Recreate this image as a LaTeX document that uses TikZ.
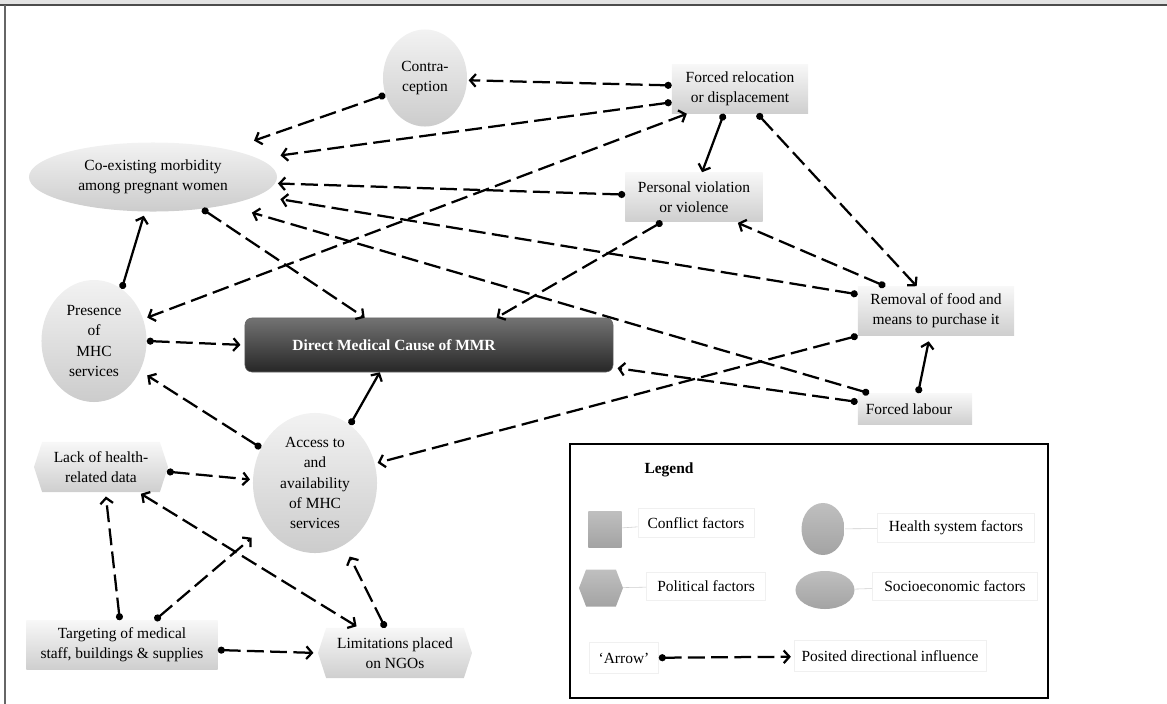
\documentclass[tikz,border=0pt]{standalone}
\usepackage{fontspec}
\setmainfont{Liberation Serif}
\usetikzlibrary{arrows.meta,shapes.geometric,shapes.symbols}

\tikzset{
  every node/.style={font=\fontsize{11}{14.5}\selectfont},
  conflict/.style={rectangle, top color=gray!6, bottom color=gray!38, inner sep=2pt, align=center},
  health/.style={ellipse, top color=gray!10, bottom color=gray!40, inner sep=0pt, align=center},
  political/.style={signal, signal to=west and east, signal pointer angle=144, top color=gray!6, bottom color=gray!38, inner sep=2pt, align=center},
  keybox/.style={rectangle, fill=white, draw=gray!12, inner sep=3pt},
  keyshape/.style={top color=gray!50, bottom color=gray!72},
  infl/.style={line width=1.6pt, dash pattern=on 12pt off 4.5pt, {Circle[length=5pt]}-{Straight Barb[length=4pt,width=9pt]}},
  twoway/.style={line width=1.6pt, dash pattern=on 12pt off 4.5pt, {Straight Barb[length=4pt,width=9pt]}-{Straight Barb[length=4pt,width=9pt]}},
}

\begin{document}
\begin{tikzpicture}[x=0.025cm,y=-0.025cm]
		\useasboundingbox (0,0) rectangle (1167,704);
		\fill[gray!22] (0,0) rectangle (1167,4);
		\draw[black!70,line width=1.5pt] (0,5) -- (1167,5);
		\draw[black!60,line width=0.8pt] (5,5) -- (5,704);
		%
		\node[health, minimum width=2.1cm, minimum height=2.425cm] (contra) at (425,78) {Contra-\\ception};
		\node[conflict, minimum width=3.4cm, minimum height=1.225cm] (reloc) at (740,89) {Forced relocation\\or displacement};
		\node[health, minimum width=6.2cm, minimum height=1.725cm] (coex) at (153,177) {Co-existing morbidity\\among pregnant women};
		\node[conflict, minimum width=3.425cm, minimum height=1.225cm] (personal) at (694,197) {Personal violation\\or violence};
		\node[health, minimum width=2.625cm, minimum height=3.05cm] (presence) at (94,341) {Presence\\of\\MHC\\services};
		\node[rectangle, rounded corners=5pt, draw=black!60, top color=black!55, bottom color=black!85, text=white,
			font=\fontsize{11}{14.5}\selectfont\bfseries, minimum width=9.2cm, minimum height=1.35cm] (direct) at (429,345) {Direct Medical Cause of MMR\hspace*{1.75cm}};
		\node[conflict, minimum width=3.9cm, minimum height=1.225cm] (removal) at (936,311) {Removal of food and\\means to purchase it};
		\node[conflict, minimum width=2.85cm, minimum height=0.775cm] (labour) at (915,409) {Forced labour\hspace*{0.3cm}};
		\node[health, minimum width=3.1cm, minimum height=3.5cm] (access) at (315,483) {Access to\\and\\availability\\of MHC\\services};
		\node[political, minimum width=3.35cm, minimum height=1.25cm] (lack) at (101,467) {Lack of health-\\related data};
		\node[conflict, minimum width=4.775cm, minimum height=1.225cm] (target) at (122,645) {Targeting of medical\\staff, buildings \& supplies};
		\node[political, minimum width=3.85cm, minimum height=1.25cm] (limits) at (395,653) {Limitations placed\\on NGOs};
		%
		\path[infl]
		(reloc.177) edge[shorten >=1pt] (contra.357)
		(contra.203) edge[shorten >=19pt] (coex.20)
		(reloc.191) edge[shorten >=16pt] (coex.10)
		(reloc.-55) edge (removal.128)
		(personal.178) edge[shorten >=2pt] (coex.-3)
		(removal.168) edge[shorten >=16pt] (coex.-10)
		(removal.154) edge[shorten >=2pt] (personal.-31)
		(labour.161) edge[shorten >=19pt] (coex.-21)
		(coex.-33) edge (direct.157)
		(personal.218) edge (direct.22)
		(presence.east) edge[shorten >=3pt] (direct.west)
		(access.147) edge[shorten >=6pt] (presence.-33)
		(removal.south west) edge[shorten >=2pt] (access.18)
		(labour.173) edge[shorten >=3pt] (direct.-7)
		(lack.-4) edge[shorten >=2pt] (access.177)
		(target.95) edge[shorten >=3pt] (lack.-80)
		(target.37) edge[shorten >=13pt] (access.221)
		(limits.111) edge[shorten >=9pt] (access.-65)
		(target.-3) edge[shorten >=3pt] (limits.west);
		\path[infl,solid]
		(reloc.237) edge (personal.72)
		(presence.62) edge[shorten >=3pt] (coex.257)
		(access.59) edge (direct.209)
		(labour.79) edge[shorten >=4pt] (removal.256);
		\path[twoway]
		(reloc.205) edge[shorten >=3pt] (presence.24)
		(lack.-34) edge[shorten >=2pt,shorten <=2pt] (limits.145);
		%
		\draw[line width=1.5pt] (570,444) rectangle (1048,698);
		\node[font=\fontsize{11}{14.5}\selectfont\bfseries] (legtitle) at (669,470) {Legend};
		\node[rectangle, keyshape, minimum width=0.825cm, minimum height=0.9cm] (kconf) at (605,529) {};
		\node[keybox, minimum width=2.9cm, minimum height=0.725cm] (kconft) at (696,523) {Conflict factors};
		\node[ellipse, keyshape, minimum width=1.075cm, minimum height=1.3cm] (khealth) at (823,529) {};
		\node[keybox, minimum width=3.925cm, minimum height=0.725cm] (khealtht) at (956,528) {Health system factors};
		\node[signal, signal to=west and east, signal pointer angle=138, keyshape, minimum width=1.1cm, minimum height=0.925cm] (kpol) at (601,588) {};
		\node[keybox, minimum width=2.975cm, minimum height=0.7cm] (kpolt) at (706,586) {Political factors};
		\node[ellipse, keyshape, minimum width=1.475cm, minimum height=0.95cm] (ksocio) at (825,590) {};
		\node[keybox, minimum width=4.125cm, minimum height=0.7cm] (ksociot) at (955,586) {Socioeconomic factors};
		\node[keybox, minimum width=1.725cm, minimum height=0.775cm] (karrow) at (624,658) {‘Arrow’};
		\node[keybox, minimum width=4.8cm, minimum height=0.775cm] (kinfl) at (890,656) {Posited directional influence};
		%
		\draw[gray!40] (kconf) -- (kconft);
		\draw[gray!40] (khealth) -- (khealtht);
		\draw[gray!40] (kpol) -- (kpolt);
		\draw[gray!40] (ksocio) -- (ksociot);
		\path[infl] (karrow) edge[shorten >=2pt] (kinfl);
\end{tikzpicture}
\end{document}
